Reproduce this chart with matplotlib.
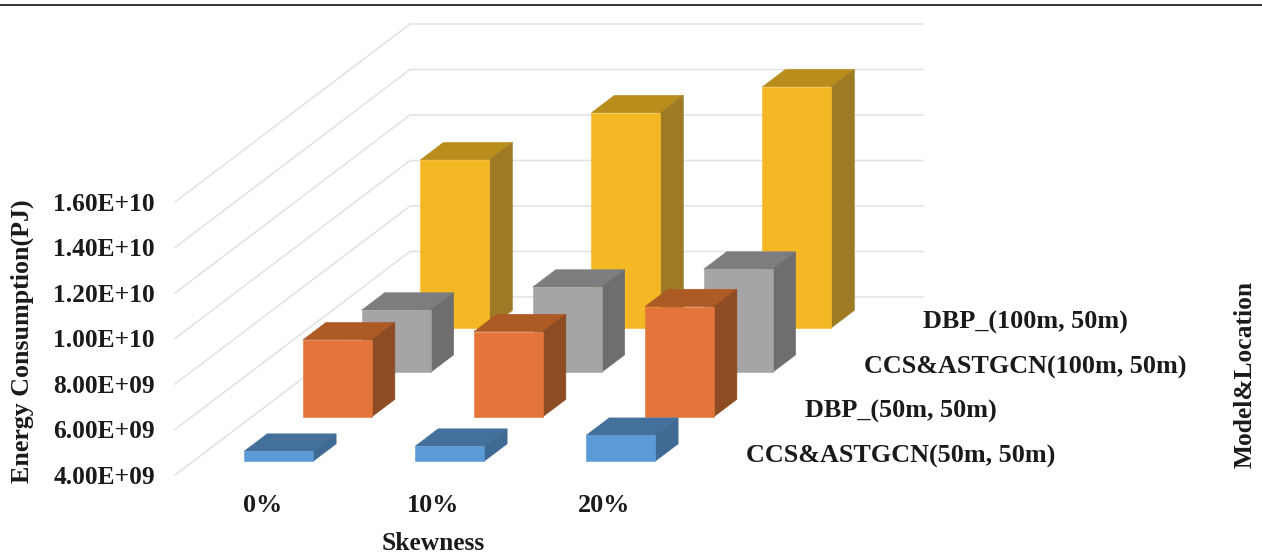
import matplotlib
matplotlib.use('Agg')
import matplotlib.pyplot as plt
from matplotlib.lines import Line2D
import numpy as np

plt.rcParams['font.family'] = ['Liberation Serif', 'DejaVu Serif']
plt.rcParams['font.weight'] = 'bold'
plt.rcParams['axes.labelweight'] = 'bold'

skewness = ['0%', '10%', '20%']
y_ticks = [4e9, 6e9, 8e9, 1e10, 1.2e10, 1.4e10, 1.6e10]

# series run front to back along the depth axis
series_names = ['CCS&ASTGCN(50m, 50m)', 'DBP_(50m, 50m)',
                'CCS&ASTGCN(100m, 50m)', 'DBP_(100m, 50m)']
ccs_50 = [4.44e9, 4.66e9, 5.14e9]
dbp_50 = [7.38e9, 7.74e9, 8.84e9]
ccs_100 = [6.73e9, 7.74e9, 8.53e9]
dbp_100 = [1.138e10, 1.345e10, 1.459e10]
series_values = [ccs_50, dbp_50, ccs_100, dbp_100]

# front, top, side
series_colors = [('#5b9bd5', '#44709c', '#3f6a94'),
                 ('#e3743a', '#ad5a24', '#8e4c24'),
                 ('#a6a4a7', '#7d7c7e', '#6f6d6f'),
                 ('#f4b824', '#b98d1b', '#9e7a24')]

W, H = 1262, 553
BASE = 4e9
TEXT = '#1a1a1a'

# oblique depth: one series step shifts this much in category / value units
DEPTH_X = 0.3436
DEPTH_Y = 1.956e9
BAR_W = 0.4035
BAR_D0, BAR_D1 = 0.31, 0.70


def shift(x, y, d):
    return x + d * DEPTH_X, y + d * DEPTH_Y


def draw_bar(ax, cat, depth, value, colors):
    x0 = cat + (1 - BAR_W) / 2
    x1 = x0 + BAR_W
    front, top, side = colors
    d0 = depth + BAR_D0
    d1 = depth + BAR_D1

    corners_top = [shift(x0, value, d0), shift(x1, value, d0),
                   shift(x1, value, d1), shift(x0, value, d1)]
    corners_side = [shift(x1, BASE, d0), shift(x1, BASE, d1),
                    shift(x1, value, d1), shift(x1, value, d0)]
    corners_front = [shift(x0, BASE, d0), shift(x1, BASE, d0),
                     shift(x1, value, d0), shift(x0, value, d0)]

    for pts, col in [(corners_top, top), (corners_side, side), (corners_front, front)]:
        xs, ys = zip(*pts)
        ax.fill(xs, ys, color=col, lw=0.4, clip_on=False, zorder=3)


fig = plt.figure(figsize=(W / 100, H / 100), dpi=100, facecolor='white')
ax = fig.add_axes([175 / W, 1 - 475 / H, 513 / W, 273 / H])
ax.set_xlim(0, 3)
ax.set_ylim(4e9, 1.6e10)
for spine in ax.spines.values():
    spine.set_visible(False)
ax.patch.set_visible(False)

# side wall and back wall gridlines
n_depth = len(series_names)
for v in y_ticks:
    bx, by = shift(0, v, n_depth)
    ax.plot([0, bx, 3 + n_depth * DEPTH_X], [v, by, by],
            color='#e2e2e2', lw=1.1, clip_on=False, zorder=1)

for depth in reversed(range(n_depth)):
    for cat in range(len(skewness)):
        draw_bar(ax, cat, depth, series_values[depth][cat], series_colors[depth])

ax.set_yticks(y_ticks)
ax.set_yticklabels([f'{v:.2E}' for v in y_ticks], fontsize=18.4, color=TEXT)
ax.set_xticks(np.arange(len(skewness)) + 0.512)
ax.set_xticklabels(skewness, fontsize=18.8, color=TEXT)
ax.tick_params(axis='y', length=0, pad=14.5)
ax.tick_params(axis='x', length=0, pad=14)
ax.set_ylabel('Energy Consumption(PJ)', fontsize=18.7, color=TEXT)
ax.set_xlabel('Skewness', fontsize=18.4, color=TEXT)
ax.yaxis.set_label_coords(-0.274, 0.49)
ax.xaxis.set_label_coords(0.503, -0.21)

# series names sit along the depth axis to the right of the floor
for depth, name in enumerate(series_names):
    lx, ly = shift(3, BASE, depth + 0.5)
    ax.annotate(name, (lx, ly), xytext=(29, -3.5), textcoords='offset pixels',
                fontsize=18.8, color=TEXT, ha='left', va='center',
                annotation_clip=False)

fig.text(1245 / W, 1 - 375 / H, 'Model&Location', rotation=90, fontsize=18.4,
         color=TEXT, ha='center', va='center')

# rule across the top of the figure
fig.add_artist(Line2D([0, 1], [1 - 4.5 / H, 1 - 4.5 / H], color='#333333', lw=1.4))

fig.savefig('out.png', dpi=100)
